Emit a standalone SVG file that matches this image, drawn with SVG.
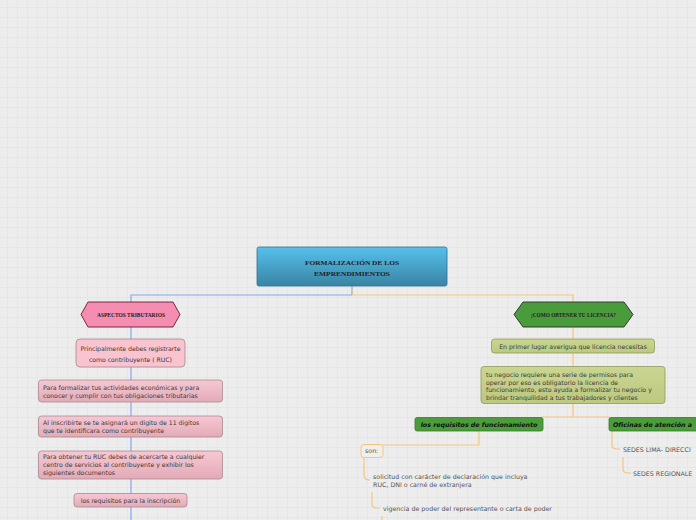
<svg xmlns="http://www.w3.org/2000/svg" width="696" height="520" viewBox="0 0 696 520">
<defs>
<pattern id="grid" x="7" y="7" width="10" height="10" patternUnits="userSpaceOnUse">
<rect width="10" height="10" fill="#ededed"/>
<path d="M0 0.5H10M0.5 0V10" stroke="#e6e6e6" stroke-width="1" fill="none"/>
</pattern>
<linearGradient id="gTitle" x1="0" y1="0" x2="0" y2="1">
<stop offset="0" stop-color="#56c0ec"/>
<stop offset="1" stop-color="#3984a4"/>
</linearGradient>
<linearGradient id="gPink" x1="0" y1="0" x2="0" y2="1">
<stop offset="0" stop-color="#f6c8d3"/>
<stop offset="1" stop-color="#e3aab7"/>
</linearGradient>
<linearGradient id="gOlive" x1="0" y1="0" x2="0" y2="1">
<stop offset="0" stop-color="#cbd592"/>
<stop offset="1" stop-color="#bcc97f"/>
</linearGradient>
</defs>
<style>
.t{font-family:"DejaVu Sans","Verdana",sans-serif;font-size:6.2px;fill:#3a3a3a}
.tc{text-anchor:middle}
.hd{font-family:"Liberation Serif","Times New Roman",serif;font-weight:bold;fill:#222}
.gl{font-family:"DejaVu Sans","Verdana",sans-serif;font-size:6.3px;font-weight:bold;font-style:italic;fill:#111}
.g{font-family:"DejaVu Sans","Verdana",sans-serif;font-size:6.3px;fill:#555}
.pb{fill:url(#gPink);stroke:#a68a91;stroke-width:0.8}
.ob{fill:url(#gOlive);stroke:#8e9b5c;stroke-width:0.8}
.gb{fill:#4b9c3b;stroke:#3a7a2c;stroke-width:0.8}
.bl{stroke:#86a6f2;stroke-width:1.2;fill:none}
.or{stroke:#f5c57f;stroke-width:1.2;fill:none}
</style>
<rect width="696" height="520" fill="url(#grid)"/>

<g id="connectors">
<path d="M352 286V295" stroke="#b0a6a0" stroke-width="1.2" fill="none"/>
<path class="bl" d="M352 295H131V520"/>
<path class="or" d="M352 295H573V417"/>
<path class="or" d="M541 417H610"/>
<path class="or" d="M479 431V445H383"/>
<path class="or" d="M612 431V445Q612 449 617 449H620"/>
<path class="or" d="M623 457V469Q623 473 628 473H631"/>
<path class="or" d="M364 458V475Q364 480 369 480H370"/>
<path class="or" d="M372 492V504Q372 508 377 508H380"/>
<path class="or" d="M382 516V520"/>
</g>

<g id="title">
<rect x="257" y="247" width="190" height="39" rx="2" fill="url(#gTitle)" stroke="#2f7190" stroke-width="0.8"/>
<text class="hd tc" x="352" y="264.5" font-size="7" textLength="94" lengthAdjust="spacingAndGlyphs">FORMALIZACIÓN DE LOS</text>
<text class="hd tc" x="352" y="276" font-size="7" textLength="76" lengthAdjust="spacingAndGlyphs">EMPRENDIMIENTOS</text>
</g>

<g id="aspectos">
<polygon points="88,302 173,302 180,314.5 173,327 88,327 81,314.5" fill="#f48db1" stroke="#6e1a30" stroke-width="0.9"/>
<text class="hd tc" x="131" y="316.5" font-size="6" textLength="68" lengthAdjust="spacingAndGlyphs">ASPECTOS TRIBUTARIOS</text>
</g>

<g id="p1">
<rect x="76" y="339" width="109" height="28" rx="4" fill="#f9c3d0" stroke="#a48890" stroke-width="0.8"/>
<text class="t tc" x="130.5" y="350.5" font-size="5.6" textLength="100" lengthAdjust="spacing">Principalmente debes registrarte</text>
<text class="t tc" x="130.5" y="361.5" font-size="5.6" textLength="83" lengthAdjust="spacing">como contribuyente ( RUC)</text>
</g>

<g id="p2">
<rect class="pb" x="38.5" y="380" width="184" height="22" rx="3"/>
<text class="t" x="43" y="390">Para formalizar tus actividades económicas y para</text>
<text class="t" x="43" y="398">conocer y cumplir con tus obligaciones tributarias</text>
</g>

<g id="p3">
<rect class="pb" x="38.5" y="416" width="184" height="21" rx="3"/>
<text class="t" x="43" y="424.5">Al inscribirte se te asignará un digito de 11 digitos</text>
<text class="t" x="43" y="432.5">que te identificara como contribuyente</text>
</g>

<g id="p4">
<rect class="pb" x="38.5" y="451" width="184" height="28" rx="3"/>
<text class="t" x="43" y="459">Para obtener tu RUC debes de acercarte a cualquier</text>
<text class="t" x="43" y="467">centro de servicios al contribuyente y exhibir los</text>
<text class="t" x="43" y="475">siguientes documentos</text>
</g>

<g id="p5">
<rect class="pb" x="74" y="493.5" width="113" height="13.5" rx="3"/>
<text class="t tc" x="130.5" y="502.5">los requisitos para la inscripción</text>
</g>

<g id="licencia">
<polygon points="523,302 624,302 633,314.5 624,327 523,327 514,314.5" fill="#4a9b3c" stroke="#2c2c2c" stroke-width="0.9"/>
<text class="hd tc" x="573.5" y="316.5" font-size="6" textLength="85" lengthAdjust="spacingAndGlyphs">¡COMO OBTENER TU LICENCIA?</text>
</g>

<g id="r1">
<rect class="ob" x="491.5" y="339" width="163" height="14" rx="3"/>
<text class="t tc" x="573" y="348.5">En primer lugar averigua que licencia necesitas</text>
</g>

<g id="r2">
<rect class="ob" x="481" y="366.5" width="184" height="37" rx="3"/>
<text class="t" x="486" y="377">tu negocio requiere una serie de permisos para</text>
<text class="t" x="486" y="384.5">operar por eso es obligatorio la licencia de</text>
<text class="t" x="486" y="392">funcionamiento, esto ayuda a formalizar tu negocio y</text>
<text class="t" x="486" y="399.5">brindar tranquilidad a tus trabajadores y clientes</text>
</g>

<g id="requisitos">
<rect class="gb" x="415" y="417.5" width="128" height="13.5" rx="2"/>
<text class="gl tc" x="479" y="426.5">los requisitos de funcionamiento</text>
</g>

<g id="oficinas">
<rect class="gb" x="609" y="417.5" width="100" height="13.5" rx="2"/>
<text class="gl" x="613" y="426.5">Oficinas de atención a</text>
</g>

<g id="son">
<rect x="361" y="444.5" width="22" height="13" rx="3" fill="#efefef" stroke="#f5c57f" stroke-width="1"/>
<text class="g" x="365" y="453">son:</text>
</g>

<g id="solicitud">
<text class="g" x="373" y="478.5" font-size="6">solicitud con carácter de declaración que incluya</text>
<text class="g" x="373" y="486.5" font-size="6">RUC, DNI o carné de extranjera</text>
</g>

<g id="vigencia">
<text class="g" x="383" y="511" font-size="6">vigencia de poder del representante o carta de poder</text>
</g>

<g id="sedes-lima">
<text class="g" x="623" y="451.5">SEDES LIMA- DIRECCI</text>
</g>

<g id="sedes-regionales">
<text class="g" x="633" y="475.5">SEDES REGIONALE</text>
</g>
</svg>
